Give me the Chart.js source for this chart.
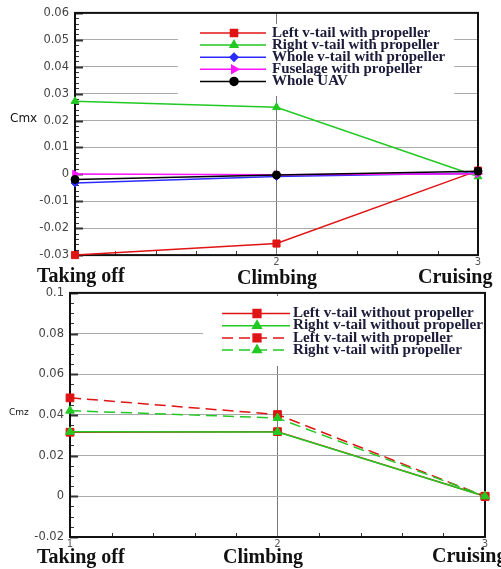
<!DOCTYPE html>
<html>
<head>
<meta charset="utf-8">
<script src="https://cdn.jsdelivr.net/npm/chart.js@4/dist/chart.umd.min.js"></script>
<style>
body { margin: 0; width: 501px; height: 569px; overflow: hidden; background: #fff; position: relative; }
.box { position: absolute; left: 0; width: 501px; }
.cat { position: absolute; font: bold 20px "Liberation Serif", serif; line-height: 20px; color: #111; white-space: nowrap; }
.ax { position: absolute; font: 12px "DejaVu Sans", sans-serif; line-height: 12px; color: #111; white-space: nowrap; }
</style>
</head>
<body>
<div class="box" style="top:0;height:268px"><canvas id="cmx"></canvas></div>
<div class="box" style="top:280px;height:270px"><canvas id="cmz"></canvas></div>

<script>
// flight phases (x axis)
const phases = [1, 2, 3];
const phaseNames = ['Taking off', 'Climbing', 'Cruising'];

// Cmx, with propeller
const cmxLabels = ['Left v-tail with propeller', 'Right v-tail with propeller', 'Whole v-tail with propeller', 'Fuselage with propeller', 'Whole UAV'];
const cmxLeftTail  = [-0.0300, -0.0257, 0.0014];
const cmxRightTail = [0.0272, 0.0249, -0.0008];
const cmxWholeTail = [-0.0032, -0.0008, 0.0005];
const cmxFuselage  = [0.0001, -0.0001, 0.0002];
const cmxWholeUav  = [-0.0019, -0.0002, 0.0012];

// Cmz, with / without propeller
const cmzLabels = ['Left v-tail without propeller', 'Right v-tail without propeller', 'Left v-tail with propeller', 'Right v-tail with propeller'];
const cmzLeftNoProp  = [0.0315, 0.0318, 0.0000];
const cmzRightNoProp = [0.0317, 0.0316, 0.0000];
const cmzLeftProp    = [0.0484, 0.0402, 0.0000];
const cmzRightProp   = [0.0421, 0.0385, 0.0000];

const RED = '#e01414', GREEN = '#22c922', BLUE = '#2b2bff', MAGENTA = '#ff14ff', BLACK = '#000';

function series(label, vals, color, style, extra) {
    return Object.assign({
        label: label,
        data: phases.map((p, i) => ({ x: p, y: vals[i] })),
        borderColor: color,
        backgroundColor: color,
        borderWidth: 1.5,
        pointStyle: style,
        pointRadius: 4.5,
        pointBorderWidth: 1,
        clip: false
    }, extra || {});
}

function fmt(v) {
    return String(Number(v.toFixed(3)));
}

// frame, minor ticks and a boxed legend inside the plot
const boxLegend = {
    id: 'boxLegend',
    beforeDatasetsDraw(chart, args, o) {
        const ctx = chart.ctx, a = chart.chartArea;
        const ys = chart.scales.y, xs = chart.scales.x;
        ctx.save();
        ctx.fillStyle = '#fff';
        ctx.fillRect(o.x, o.y, o.w, o.h);

        ctx.strokeStyle = '#333';
        let n = Math.round((ys.max - ys.min) / o.yMinor);
        for (let k = 0; k <= n; k++) {
            const py = Math.round(ys.getPixelForValue(ys.min + k * o.yMinor)) + 0.5;
            const len = k % o.yPer === 0 ? 8 : 4;
            ctx.lineWidth = k % o.yPer === 0 ? 2 : 1;
            ctx.beginPath();
            ctx.moveTo(a.left, py);
            ctx.lineTo(a.left + len, py);
            ctx.stroke();
        }
        ctx.lineWidth = 1;
        n = Math.round((xs.max - xs.min) / 0.2);
        for (let k = 1; k < n; k++) {
            if (k % 5 === 0) continue;
            const px = Math.round(xs.getPixelForValue(xs.min + k * 0.2)) + 0.5;
            ctx.beginPath();
            ctx.moveTo(px, a.bottom);
            ctx.lineTo(px, a.bottom - 4);
            ctx.stroke();
        }

        ctx.strokeStyle = '#111';
        ctx.lineWidth = 2;
        ctx.strokeRect(a.left, a.top, a.width, a.height);
        ctx.restore();
    },
    afterDatasetsDraw(chart, args, o) {
        const ctx = chart.ctx;
        ctx.save();
        chart.data.datasets.forEach((d, i) => {
            const yy = o.rowY + i * o.rowH;
            ctx.strokeStyle = d.borderColor;
            ctx.lineWidth = d.borderWidth;
            ctx.setLineDash(d.borderDash || []);
            ctx.beginPath();
            ctx.moveTo(o.lineX0, yy);
            ctx.lineTo(o.lineX1, yy);
            ctx.stroke();
            ctx.setLineDash([]);
            ctx.fillStyle = d.backgroundColor;
            Chart.helpers.drawPoint(ctx, {
                pointStyle: d.pointStyle, rotation: d.pointRotation || 0,
                radius: d.pointRadius, borderWidth: 1
            }, o.markX, yy);
            // the source text is stretched sideways a little
            ctx.save();
            ctx.translate(o.textX, yy);
            ctx.scale(o.stretch, 1);
            ctx.fillStyle = '#1b1b3a';
            ctx.font = 'bold 14px "Liberation Serif"';
            ctx.textBaseline = 'middle';
            ctx.fillText(d.label, 0, 0);
            ctx.restore();
        });
        ctx.restore();
    }
};

function makeChart(id, datasets, yMin, yMax, yStep, axisWidth, pad, xAxisH, hideFirst, legendOpts) {
    datasets.forEach((d, i) => { d.order = datasets.length - i; });
    return new Chart(document.getElementById(id), {
        type: 'line',
        data: { datasets: datasets },
        options: {
            responsive: true,
            maintainAspectRatio: false,
            animation: false,
            layout: { padding: pad },
            plugins: {
                legend: { display: false },
                tooltip: { enabled: false },
                boxLegend: legendOpts
            },
            scales: {
                x: {
                    type: 'linear', min: 1, max: 3,
                    afterFit: s => { s.height = xAxisH; },
                    border: { display: false },
                    grid: {
                        drawTicks: false,
                        color: c => (c.tick && c.tick.value === 2) ? '#777' : 'rgba(0,0,0,0)'
                    },
                    ticks: {
                        stepSize: 1, padding: 1, color: '#555',
                        font: { family: 'DejaVu Sans', size: 10 },
                        callback: v => (hideFirst && v === 1) ? '' : String(v)
                    }
                },
                y: {
                    min: yMin, max: yMax,
                    afterFit: s => { s.width = axisWidth; },
                    border: { display: false },
                    grid: { drawTicks: false, color: '#aaa' },
                    ticks: {
                        stepSize: yStep, padding: 6, color: '#444',
                        font: { family: 'DejaVu Sans', size: 11.5 },
                        callback: v => fmt(v)
                    }
                }
            }
        },
        plugins: [boxLegend]
    });
}

makeChart('cmx', [
    series(cmxLabels[0], cmxLeftTail, RED, 'rect', { pointRadius: 5 }),
    series(cmxLabels[1], cmxRightTail, GREEN, 'triangle'),
    series(cmxLabels[2], cmxWholeTail, BLUE, 'rectRot', { pointRadius: 4 }),
    series(cmxLabels[3], cmxFuselage, MAGENTA, 'triangle', { pointRotation: 90 }),
    series(cmxLabels[4], cmxWholeUav, BLACK, 'circle', { pointRadius: 4 })
], -0.03, 0.06, 0.01, 75, { top: 9, right: 23, left: 0, bottom: 0 }, 12, true, {
    x: 178, y: 24, w: 276, h: 72, yMinor: 0.002, yPer: 5,
    rowY: 33, rowH: 12.1, lineX0: 200, lineX1: 266, markX: 234, textX: 272, stretch: 1.07
});

makeChart('cmz', [
    series(cmzLabels[0], cmzLeftNoProp, RED, 'rect', { pointRadius: 5.5 }),
    series(cmzLabels[1], cmzRightNoProp, GREEN, 'triangle', { pointRadius: 5 }),
    series(cmzLabels[2], cmzLeftProp, RED, 'rect', { pointRadius: 5.5, borderDash: [11, 6] }),
    series(cmzLabels[3], cmzRightProp, GREEN, 'triangle', { pointRadius: 5, borderDash: [11, 6] })
], -0.02, 0.1, 0.02, 70, { top: 9, right: 16, left: 0, bottom: 0 }, 13, false, {
    x: 203, y: 16, w: 283, h: 70, yMinor: 0.005, yPer: 4,
    rowY: 33.5, rowH: 12.2, lineX0: 222, lineX1: 290, markX: 257, textX: 293, stretch: 1.08
});

// phase names under the axes, and the axis titles
const catPos = [
    [[37, 265], [237, 267], [418, 266]],
    [[37, 546], [223, 546], [432, 545]]
];
catPos.forEach(row => row.forEach((p, i) => {
    const el = document.createElement('div');
    el.className = 'cat';
    el.style.left = p[0] + 'px';
    el.style.top = p[1] + 'px';
    el.textContent = phaseNames[i];
    document.body.appendChild(el);
}));

[['Cmx', 10, 112, 12], ['Cmz', 9, 408, 9]].forEach(t => {
    const el = document.createElement('div');
    el.className = 'ax';
    el.style.left = t[1] + 'px';
    el.style.top = t[2] + 'px';
    el.style.fontSize = t[3] + 'px';
    el.style.lineHeight = t[3] + 'px';
    el.textContent = t[0];
    document.body.appendChild(el);
});
</script>
</body>
</html>
